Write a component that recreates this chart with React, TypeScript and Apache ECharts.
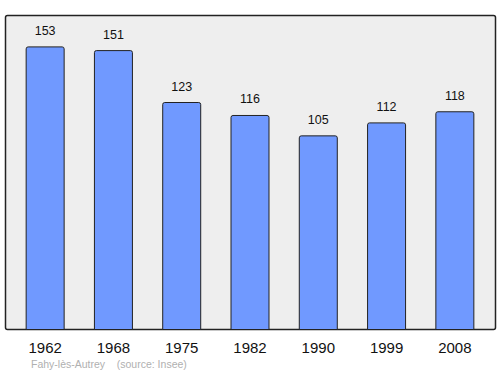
import React, { useEffect, useRef } from "react";
import * as echarts from "echarts";

const years = ["1962", "1968", "1975", "1982", "1990", "1999", "2008"];
const population = [153, 151, 123, 116, 105, 112, 118];
const footerText = "Fahy-lès-Autrey    (source: Insee)";

export default function App() {
  const ref = useRef<HTMLDivElement>(null);
  useEffect(() => {
    if (!ref.current) return;
    const chart = echarts.init(ref.current, undefined, { renderer: "svg" });
    chart.setOption({
      animation: false,
      graphic: [
        {
          type: "rect",
          z: -10,
          shape: { x: 5.5, y: 15.5, width: 490, height: 314, r: 2 },
          style: { fill: "#eeeeee", stroke: "#222222", lineWidth: 1.5 },
        },
        {
          type: "text",
          left: 31,
          top: 358,
          style: {
            text: footerText,
            fill: "#b0b0b0",
            font: "10.5px 'Liberation Sans', Arial, sans-serif",
          },
        },
      ],
      grid: { left: 11, right: 11, top: 16, bottom: 44 },
      xAxis: {
        type: "category",
        data: years,
        axisLine: { show: false },
        axisTick: { show: false },
        axisLabel: {
          color: "#111",
          fontSize: 15,
          fontFamily: "'Liberation Sans', Arial, sans-serif",
          margin: 10,
        },
      },
      yAxis: {
        type: "value",
        min: 0,
        max: 169.4,
        show: false,
        splitLine: { show: false },
      },
      series: [
        {
          type: "bar",
          data: population,
          barWidth: 39,
          itemStyle: {
            color: "#7099ff",
            borderColor: "#222",
            borderWidth: 1,
            borderRadius: [2, 2, 0, 0],
          },
          label: {
            show: true,
            position: "top",
            distance: 9,
            color: "#111",
            fontSize: 12.5,
            fontFamily: "'Liberation Sans', Arial, sans-serif",
          },
        },
      ],
    });
    return () => chart.dispose();
  }, []);
  return <div ref={ref} style={{ width: 500, height: 374, position: "absolute", left: 0, top: 0 }} />;
}
